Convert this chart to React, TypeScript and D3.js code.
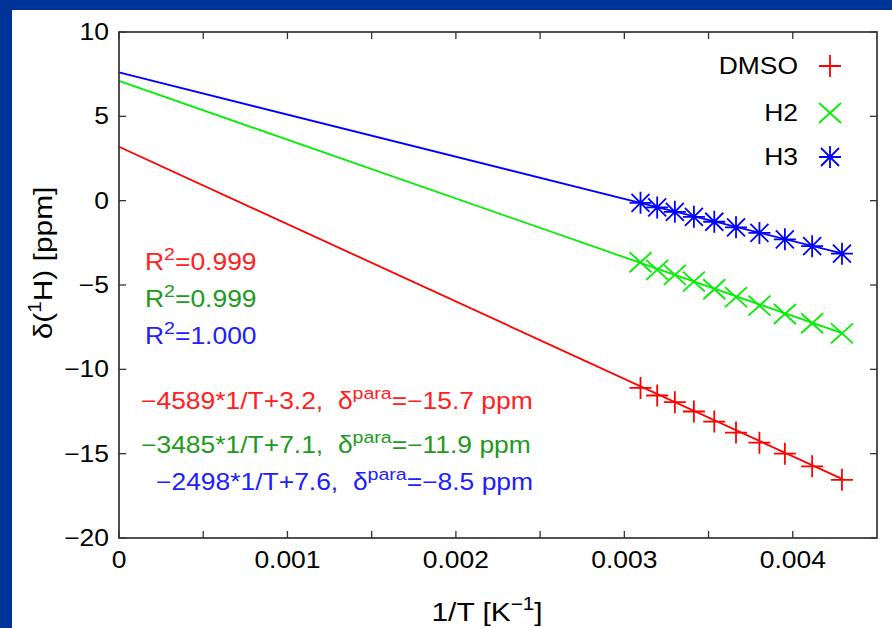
import React from "react";
import * as d3 from "d3";

const invT = [0.003096, 0.003195, 0.0033, 0.003413, 0.003534, 0.003663, 0.003802, 0.003953, 0.004115, 0.004292];
const dmso = [-11.1, -11.55, -11.95, -12.5, -13.1, -13.75, -14.35, -15.0, -15.75, -16.55];
const h2 = [-3.65, -4.1, -4.4, -4.8, -5.25, -5.72, -6.22, -6.72, -7.27, -7.87];
const h3 = [-0.13, -0.4, -0.66, -0.96, -1.25, -1.58, -1.91, -2.29, -2.7, -3.14];

const seriesNames = ["DMSO", "H2", "H3"];
const slopes = [-4589, -3485, -2498];
const intercepts = [3.2, 7.1, 7.6];
const r2Labels = ["0.999", "0.999", "1.000"];
const paraLabels = ["−15.7", "−11.9", "−8.5"];
const xTicks = [0, 0.0005, 0.001, 0.0015, 0.002, 0.0025, 0.003, 0.0035, 0.004];
const xTickLabels = ["0", "", "0.001", "", "0.002", "", "0.003", "", "0.004"];
const yTicks = [-20, -15, -10, -5, 0, 5, 10];

const lineColors = ["#ff0000", "#00ee00", "#0000ff"];
const textColors = ["#ff2020", "#1e9a1e", "#2020ff"];

const FONT = "'Liberation Sans', Arial, Helvetica, sans-serif";
const SX = 1.15;

function T({ x, y, anchor = "start", fill = "#000", size = 23, children }: any) {
  return (
    <g transform={`translate(${x},${y}) scale(${SX},1)`}>
      <text x={0} y={0} textAnchor={anchor} fill={fill} fontSize={size} fontFamily={FONT} style={{ whiteSpace: "pre" }}>
        {children}
      </text>
    </g>
  );
}

function Marker({ type, x, y, color }: any) {
  const h = 11;
  const d = 9;
  const plus = `M${x - h},${y}L${x + h},${y}M${x},${y - h}L${x},${y + h}`;
  const cross = `M${x - d},${y - d}L${x + d},${y + d}M${x - d},${y + d}L${x + d},${y - d}`;
  const path = type === 0 ? plus : type === 1 ? `M${x - 11},${y - 10}L${x + 11},${y + 10}M${x - 11},${y + 10}L${x + 11},${y - 10}` : plus + cross;
  return <path d={path} stroke={color} strokeWidth={1.8} fill="none" />;
}

export default function App() {
  const W = 892, H = 628;
  const left = 119, right = 877, top = 32, bottom = 538;
  const x = d3.scaleLinear().domain([0, 0.0045]).range([left, right]);
  const y = d3.scaleLinear().domain([-20, 10]).range([bottom, top]);
  const data = [dmso, h2, h3];

  const legendY = [66, 113, 157];
  const r2Y = [270, 307, 344];
  const eqY = [409, 453, 490];
  const eqX = [141, 141, 156];

  return (
    <div style={{ position: "fixed", left: 0, top: 0 }}>
      <svg width={W} height={H} style={{ display: "block" }}>
        <rect x={0} y={0} width={W} height={H} fill="#003399" />
        <rect x={12} y={10} width={W - 12} height={H - 10} fill="#ffffff" />

        {/* fit lines */}
        {slopes.map((s, i) => {
          const x0 = 0, x1 = invT[invT.length - 1];
          return (
            <path
              key={"fit" + i}
              d={`M${x(x0)},${y(s * x0 + intercepts[i])}L${x(x1)},${y(s * x1 + intercepts[i])}`}
              stroke={lineColors[i]}
              strokeWidth={1.8}
              fill="none"
            />
          );
        })}

        {/* markers */}
        {data.map((vals, i) =>
          vals.map((v, j) => <Marker key={`m${i}-${j}`} type={i} x={x(invT[j])} y={y(v)} color={lineColors[i]} />)
        )}

        {/* frame */}
        <rect x={left} y={top} width={right - left} height={bottom - top} fill="none" stroke="#333" strokeWidth={1.7} />
        {xTicks.map((t, i) => (
          <g key={"xt" + i}>
            <line x1={x(t)} x2={x(t)} y1={bottom} y2={bottom - 7} stroke="#333" strokeWidth={1.3} />
            <line x1={x(t)} x2={x(t)} y1={top} y2={top + 7} stroke="#333" strokeWidth={1.3} />
            {xTickLabels[i] && <T x={x(t)} y={568} anchor="middle">{xTickLabels[i]}</T>}
          </g>
        ))}
        {yTicks.map((t, i) => (
          <g key={"yt" + i}>
            <line x1={left} x2={left + 7} y1={y(t)} y2={y(t)} stroke="#333" strokeWidth={1.3} />
            <line x1={right} x2={right - 7} y1={y(t)} y2={y(t)} stroke="#333" strokeWidth={1.3} />
            <T x={109} y={y(t) + 8} anchor="end">{t < 0 ? "−" + Math.abs(t) : String(t)}</T>
          </g>
        ))}

        {/* axis titles */}
        <T x={487} y={621} anchor="middle" size={26}>
          1/T [K<tspan dy={-11} fontSize={18}>−1</tspan><tspan dy={11}>]</tspan>
        </T>
        <g transform="translate(52,263) rotate(-90)">
          <T x={0} y={0} anchor="middle" size={26}>
            δ(<tspan dy={-11} fontSize={18}>1</tspan><tspan dy={11}>H) [ppm]</tspan>
          </T>
        </g>

        {/* legend */}
        {seriesNames.map((n, i) => (
          <g key={"lg" + i}>
            <T x={798} y={legendY[i] + 8} anchor="end">{n}</T>
            <Marker type={i} x={830} y={legendY[i]} color={lineColors[i]} />
          </g>
        ))}

        {/* R² annotations */}
        {r2Labels.map((r, i) => (
          <T key={"r2" + i} x={145} y={r2Y[i]} fill={textColors[i]}>
            R<tspan dy={-10} fontSize={17}>2</tspan><tspan dy={10}>={r}</tspan>
          </T>
        ))}

        {/* equations */}
        {slopes.map((s, i) => (
          <T key={"eq" + i} x={eqX[i]} y={eqY[i]} fill={textColors[i]}>
            {`−${Math.abs(s)}*1/T+${intercepts[i].toFixed(1)},  δ`}
            <tspan dy={-10} fontSize={17}>para</tspan>
            <tspan dy={10}>{`=${paraLabels[i]} ppm`}</tspan>
          </T>
        ))}
      </svg>
    </div>
  );
}
